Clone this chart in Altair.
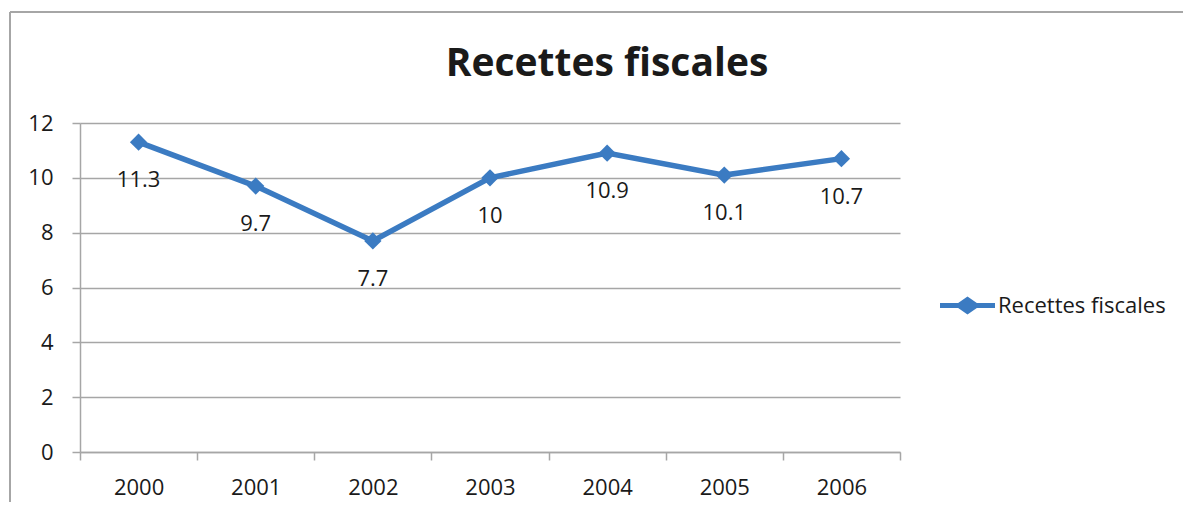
import altair as alt
import pandas as pd

years = ["2000", "2001", "2002", "2003", "2004", "2005", "2006"]
values = [11.3, 9.7, 7.7, 10, 10.9, 10.1, 10.7]
series_name = "Recettes fiscales"
title_text = "Recettes fiscales"

df = pd.DataFrame({"year": years, "value": values, "series": [series_name] * len(years)})

BLUE = "#3B7BC2"
GRAY = "#A6A6A6"
FONT = "Open Sans"
TXT = "#1a1a1a"
FS = 22

legend_path = ("M-1,-0.09 L-0.34,-0.09 L0,-0.33 L0.34,-0.09 L1,-0.09 L1,0.09 "
               "L0.34,0.09 L0,0.33 L-0.34,0.09 L-1,0.09 Z")

x_enc = alt.X("year:N", sort=years, title=None,
              scale=alt.Scale(paddingInner=0, paddingOuter=0),
              axis=alt.Axis(labelAngle=0, tickBand="extent", grid=False,
                            domainColor=GRAY, tickColor=GRAY, tickSize=8,
                            domainWidth=1.5, tickWidth=1.5,
                            labelFont=FONT, labelFontSize=FS, labelColor=TXT,
                            labelPadding=17))
y_enc = alt.Y("value:Q", title=None,
              scale=alt.Scale(domain=[0, 12], nice=False),
              axis=alt.Axis(values=[0, 2, 4, 6, 8, 10, 12], grid=True, gridColor=GRAY,
                            gridWidth=1.5, domainColor=GRAY, domainWidth=1.5,
                            tickColor=GRAY, tickSize=8, tickWidth=1.5,
                            labelFont=FONT, labelFontSize=FS, labelColor=TXT,
                            labelPadding=19))

base = alt.Chart(df)

line = base.mark_line(strokeWidth=5.5, color=BLUE).encode(
    x=x_enc, y=y_enc,
    color=alt.Color("series:N", scale=alt.Scale(range=[BLUE]), title=None,
                    legend=alt.Legend(orient="none", legendX=860, legendY=155,
                                      symbolType=legend_path, symbolSize=3025,
                                      symbolStrokeWidth=0, symbolFillColor=BLUE,
                                      labelFont=FONT, labelFontSize=FS,
                                      labelColor=TXT, labelOffset=3, labelLimit=400,
                                      padding=0)),
)
points = base.mark_point(shape="diamond", filled=True, size=300, color=BLUE, opacity=1).encode(
    x=alt.X("year:N", sort=years), y="value:Q")
labels = base.mark_text(dy=38, font=FONT, fontSize=FS, color=TXT).encode(
    x=alt.X("year:N", sort=years), y="value:Q", text=alt.Text("value:Q"))

frame_left = base.mark_rule(color=GRAY, strokeWidth=1.5).encode(
    x=alt.value(-70), y=alt.value(-111), y2=alt.value(400))
frame_top = base.mark_rule(color=GRAY, strokeWidth=1.5).encode(
    x=alt.value(-70), x2=alt.value(1120), y=alt.value(-111))

chart = alt.layer(frame_left, frame_top, line, points, labels).properties(
    width=820, height=329,
    title=alt.TitleParams(title_text, font=FONT, fontSize=39, fontWeight="bold",
                          color=TXT, anchor="middle", frame="group", dx=117,
                          offset=0, dy=112, baseline="bottom"),
    autosize=alt.AutoSizeParams(type="none"),
    padding={"left": 72, "top": 115, "right": 283, "bottom": 50},
).configure_view(stroke=None)

chart.save("out.html", embed_options={"renderer": "svg", "actions": False})
